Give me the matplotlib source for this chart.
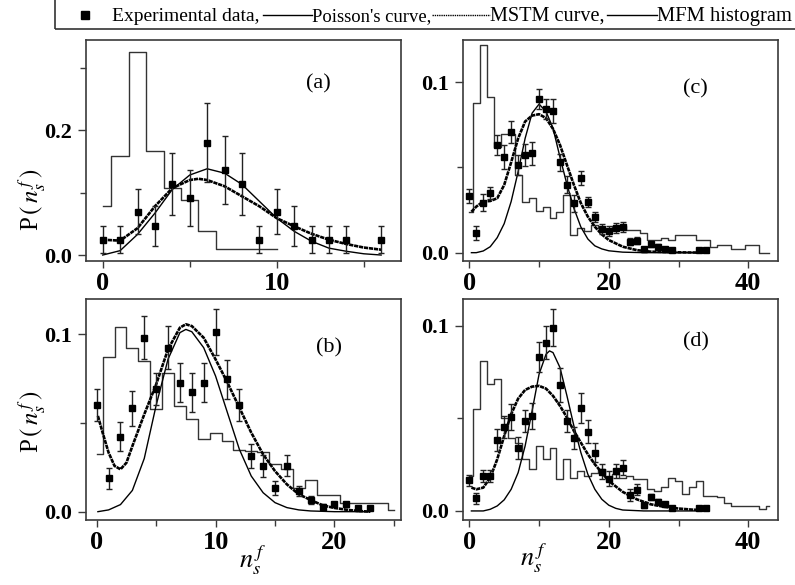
import numpy as np
import matplotlib
matplotlib.use("Agg")
import matplotlib.pyplot as plt
from matplotlib.lines import Line2D
from matplotlib.patches import Rectangle
from matplotlib.ticker import FormatStrFormatter, MultipleLocator

plt.rcParams['font.family'] = ['Liberation Serif', 'DejaVu Serif']
plt.rcParams['mathtext.fontset'] = 'stix'

# ---------------- panel (a)
a_n = [0, 1, 2, 3, 4, 5, 6, 7, 8, 9, 10, 11, 12, 13, 14, 16]
a_p = [0.0245, 0.0245, 0.069, 0.047, 0.114, 0.091, 0.180, 0.136, 0.114,
       0.0245, 0.069, 0.047, 0.0245, 0.0245, 0.0245, 0.0245]
a_err = [0.022, 0.022, 0.036, 0.032, 0.05, 0.045, 0.063, 0.054, 0.05,
         0.022, 0.036, 0.032, 0.022, 0.022, 0.022, 0.022]
a_pois_x = [0, 1, 2, 3, 4, 5, 6, 7, 8, 9, 10, 11, 12, 13, 14, 15, 16]
a_pois_y = [0.0, 0.007, 0.033, 0.067, 0.105, 0.128, 0.138, 0.131, 0.113,
            0.086, 0.059, 0.038, 0.022, 0.011, 0.006, 0.002, 0.0]
a_mstm_x = [0, 1, 2, 3, 4, 5, 5.5, 6, 7, 8, 9, 10, 11, 12, 13, 14, 15, 16]
a_mstm_y = [0.0245, 0.023, 0.043, 0.078, 0.107, 0.120, 0.122, 0.120, 0.110,
            0.094, 0.078, 0.059, 0.046, 0.034, 0.0245, 0.0176, 0.012, 0.0085]
a_hist = [0.078, 0.158, 0.325, 0.167, 0.108, 0.0875, 0.039, 0.0096, 0.0096,
          0.0096, 0.0096]

# ---------------- panel (b)
b_n = list(range(0, 24))
b_p = [0.0602, 0.0188, 0.0423, 0.0583, 0.0981, 0.069, 0.0925, 0.0728, 0.0675,
       0.0728, 0.1015, 0.0746, 0.0602, 0.0314, 0.0258, 0.0132, 0.026, 0.0117,
       0.0066, 0.0027, 0.0041, 0.0041, 0.0023, 0.0023]
b_err = [0.009, 0.006, 0.008, 0.010, 0.012, 0.009, 0.012, 0.011, 0.011, 0.011,
         0.013, 0.011, 0.009, 0.007, 0.006, 0.004, 0.006, 0.003, 0.002, 0.0015,
         0.0015, 0.0015, 0.001, 0.001]
b_pois_x = [0.1, 1, 2, 3, 4, 5, 6, 7, 7.5, 8, 9, 10, 11, 12, 13, 14, 15, 16,
            17, 18, 20, 23]
b_pois_y = [0.0, 0.001, 0.004, 0.012, 0.030, 0.060, 0.086, 0.101, 0.1028,
            0.1015, 0.0925, 0.0765, 0.0558, 0.0352, 0.0201, 0.0107, 0.0051,
            0.0023, 0.001, 0.0004, 0.0, 0.0]
b_mstm_x = [0.1, 0.5, 1, 1.5, 2, 2.5, 3, 4, 5, 6, 7, 7.5, 8, 9, 10, 11, 12,
            13, 14, 15, 16, 17, 18, 19, 20, 21, 22, 23]
b_mstm_y = [0.054, 0.0445, 0.0333, 0.0258, 0.0239, 0.0276, 0.037, 0.0549,
            0.0718, 0.0916, 0.1038, 0.1057, 0.1047, 0.0981, 0.0859, 0.0728,
            0.0587, 0.0446, 0.0323, 0.0229, 0.0154, 0.0098, 0.0066, 0.0036,
            0.0021, 0.0011, 0.0004, 0.0]
b_hist = [0.0324, 0.0872, 0.1044, 0.0921, 0.085, 0.058, 0.0784, 0.0596,
          0.0524, 0.0412, 0.0446, 0.040, 0.035, 0.034, 0.0335, 0.027, 0.024,
          0.0135, 0.018, 0.0094, 0.0094, 0.0047, 0.0047, 0.0047, 0.0047, 0.001]

# ---------------- panel (c)
c_n = list(range(0, 30)) + [33, 34]
c_p = [0.0334, 0.0117, 0.0293, 0.0348, 0.0632, 0.0559, 0.0708, 0.0514, 0.0572,
       0.0582, 0.0900, 0.0841, 0.0829, 0.053, 0.0397, 0.029, 0.0436, 0.0299,
       0.0211, 0.0137, 0.0127, 0.0143, 0.015, 0.0064, 0.007, 0.0021, 0.0049,
       0.0033, 0.0023, 0.0013, 0.0013, 0.0013]
c_err = [0.004, 0.004, 0.005, 0.0035, 0.006, 0.007, 0.0065, 0.006, 0.0065,
         0.0065, 0.006, 0.006, 0.007, 0.005, 0.005, 0.005, 0.004, 0.003, 0.003,
         0.003, 0.003, 0.003, 0.003, 0.002, 0.002, 0.0015, 0.0015, 0.0015,
         0.001, 0.001, 0.001, 0.001]
c_pois_x = [0.3, 1, 2, 3, 4, 5, 6, 7, 8, 9, 10, 11, 12, 13, 14, 15, 16, 17,
            18, 19, 20, 22, 25, 34]
c_pois_y = [0.0, 0.0, 0.001, 0.0035, 0.0088, 0.017, 0.030, 0.0475, 0.067,
            0.0818, 0.0871, 0.0828, 0.073, 0.056, 0.040, 0.026, 0.015, 0.008,
            0.004, 0.0022, 0.0011, 0.0003, 0.0, 0.0]
c_mstm_x = [0.3, 1, 2, 3, 4, 5, 6, 7, 8, 9, 10, 11, 12, 13, 14, 15, 16, 17,
            18, 19, 20, 22, 24, 26, 30, 34]
c_mstm_y = [0.024, 0.027, 0.030, 0.0303, 0.0319, 0.0397, 0.053, 0.067, 0.0769,
            0.0804, 0.0812, 0.0789, 0.0726, 0.0632, 0.0514, 0.0397, 0.029,
            0.0211, 0.0152, 0.0107, 0.0074, 0.0035, 0.0015, 0.0006, 0.0002,
            0.0]
c_hist = [0.024, 0.0877, 0.1215, 0.0915, 0.0622, 0.0694, 0.0694, 0.0456,
          0.030, 0.0319, 0.0244, 0.027, 0.0201, 0.024, 0.0338, 0.0104, 0.0147,
          0.0127, 0.0162, 0.0147, 0.0133, 0.0156, 0.0156, 0.0133, 0.0133,
          0.0113, 0.0074, 0.0074, 0.0088, 0.0074, 0.0104, 0.0104, 0.0104,
          0.0074, 0.0074, 0.0033, 0.0043, 0.0043, 0.0023, 0.0023, 0.0043,
          0.0043, 0.0, 0.0]

# ---------------- panel (d)
d_n = list(range(0, 30)) + [33, 34]
d_p = [0.0166, 0.0068, 0.0189, 0.0189, 0.0384, 0.0454, 0.0508, 0.0339, 0.0486,
       0.0514, 0.0832, 0.091, 0.0991, 0.0681, 0.0486, 0.0396, 0.0555, 0.0429,
       0.0315, 0.0213, 0.0175, 0.0216, 0.0234, 0.0086, 0.0114, 0.0031, 0.0076,
       0.005, 0.0036, 0.0018, 0.0018, 0.0018]
d_err = [0.003, 0.003, 0.003, 0.003, 0.006, 0.006, 0.007, 0.006, 0.006, 0.007,
         0.008, 0.009, 0.01, 0.009, 0.006, 0.006, 0.008, 0.006, 0.005, 0.004,
         0.004, 0.004, 0.004, 0.003, 0.003, 0.0015, 0.0015, 0.0015, 0.001,
         0.001, 0.001, 0.001]
d_pois_x = [0.3, 2, 3, 4, 5, 6, 7, 8, 9, 10, 11, 11.5, 12, 13, 14, 15, 16, 17,
            18, 19, 20, 21, 22, 25, 34]
d_pois_y = [0.0, 0.0, 0.0009, 0.0027, 0.006, 0.0117, 0.0207, 0.0351, 0.054,
            0.0739, 0.0847, 0.0865, 0.0856, 0.0775, 0.0622, 0.0459, 0.0315,
            0.0198, 0.0117, 0.0063, 0.0031, 0.0014, 0.0005, 0.0, 0.0]
d_mstm_x = [0.3, 1, 2, 3, 4, 5, 6, 7, 8, 9, 10, 11, 12, 13, 14, 15, 16, 17,
            18, 19, 20, 22, 24, 26, 28, 30, 32, 34]
d_mstm_y = [0.0126, 0.0117, 0.0126, 0.018, 0.0279, 0.0405, 0.0523, 0.0607,
            0.0654, 0.0672, 0.0676, 0.0661, 0.0622, 0.0568, 0.0505, 0.0432,
            0.0369, 0.0306, 0.0252, 0.0207, 0.0162, 0.0103, 0.0063, 0.0036,
            0.0022, 0.0013, 0.0007, 0.0004]
d_hist = [0.019, 0.055, 0.0811, 0.0685, 0.0712, 0.0505, 0.0396, 0.0369,
          0.0279, 0.0225, 0.0351, 0.0279, 0.0342, 0.0171, 0.0279, 0.018,
          0.0216, 0.0189, 0.0207, 0.0225, 0.018, 0.0198, 0.018, 0.0189,
          0.0171, 0.0175, 0.012, 0.011, 0.013, 0.018, 0.016, 0.009, 0.013,
          0.016, 0.008, 0.008, 0.0075, 0.0045, 0.0025, 0.0025, 0.0025, 0.0025,
          0.0012, 0.0025]

SPINE = '#3a3a3a'


def draw_panel(ax, n, p, err, pois_x, pois_y, mstm_x, mstm_y, hist, tag,
               tag_pos, xlim, xmaj, xmin, ylim, ymaj, ymin):
    ax.step(range(len(hist)), hist, where='mid', color='#333333', lw=1.0)
    ax.plot(pois_x, pois_y, color='black', lw=1.0)
    # MSTM curve: dense dotted, reads almost as a thick line
    ax.plot(mstm_x, mstm_y, color='black', lw=1.9, ls=(0, (1.6, 0.3)))
    ax.errorbar(n, p, yerr=err, fmt='s', color='black', ms=4.8,
                ecolor='#222222', elinewidth=1.0, capsize=2.5, capthick=1.0)
    ax.text(tag_pos[0], tag_pos[1], tag, transform=ax.transAxes,
            ha='center', va='center', fontsize=16)
    ax.set_xlim(*xlim)
    ax.set_ylim(*ylim)
    ax.xaxis.set_major_locator(MultipleLocator(xmaj))
    ax.xaxis.set_minor_locator(MultipleLocator(xmin))
    ax.yaxis.set_major_locator(MultipleLocator(ymaj))
    ax.yaxis.set_minor_locator(MultipleLocator(ymin))
    ax.yaxis.set_major_formatter(FormatStrFormatter('%.1f'))
    ax.tick_params(axis='y', which='major', direction='out', length=6,
                   width=1, labelsize=16, pad=4, color=SPINE)
    ax.tick_params(axis='y', which='minor', direction='out', length=4.5,
                   width=1, color=SPINE)
    ax.tick_params(axis='x', which='major', direction='out', length=5,
                   width=1, labelsize=19, pad=3, color=SPINE)
    ax.tick_params(axis='x', which='minor', direction='out', length=4,
                   width=1, color=SPINE)
    for lab in ax.get_xticklabels() + ax.get_yticklabels():
        lab.set_fontweight('bold')
    for s in ax.spines.values():
        s.set_color(SPINE)
        s.set_linewidth(1.2)


fig = plt.figure(figsize=(7.95, 5.85), dpi=100)
ax_a = fig.add_axes([0.1082, 0.5538, 0.3962, 0.3778])
ax_c = fig.add_axes([0.5820, 0.5538, 0.3966, 0.3778])
ax_b = fig.add_axes([0.1082, 0.1111, 0.3962, 0.3773])
ax_d = fig.add_axes([0.5820, 0.1111, 0.3966, 0.3773])

draw_panel(ax_a, a_n, a_p, a_err, a_pois_x, a_pois_y, a_mstm_x, a_mstm_y,
           a_hist, '(a)', (0.737, 0.80), (-0.96, 17.14), 10, 5,
           (-0.0096, 0.344), 0.2, 0.1)
draw_panel(ax_c, c_n, c_p, c_err, c_pois_x, c_pois_y, c_mstm_x, c_mstm_y,
           c_hist, '(c)', (0.737, 0.778), (-0.95, 44.26), 20, 10,
           (-0.0049, 0.1247), 0.1, 0.05)
draw_panel(ax_b, b_n, b_p, b_err, b_pois_x, b_pois_y, b_mstm_x, b_mstm_y,
           b_hist, '(b)', (0.771, 0.779), (-0.9, 25.6), 10, 5,
           (-0.0047, 0.1198), 0.1, 0.05)
draw_panel(ax_d, d_n, d_p, d_err, d_pois_x, d_pois_y, d_mstm_x, d_mstm_y,
           d_hist, '(d)', (0.740, 0.807), (-0.95, 44.26), 20, 10,
           (-0.0049, 0.1144), 0.1, 0.05)

# axis labels
ylab = r'P$\,(\,n_s^{\,f}\,)$'
fig.text(32 / 795, 1 - 200 / 585, ylab, rotation=90, ha='center',
         va='center', fontsize=18)
fig.text(32 / 795, 1 - 422 / 585, ylab, rotation=90, ha='center',
         va='center', fontsize=18)
fig.text(252 / 795, 1 - 560 / 585, r'$n_s^{\,f}$', ha='center', va='center',
         fontsize=19)
fig.text(533 / 795, 1 - 558 / 585, r'$n_s^{\,f}$', ha='center', va='center',
         fontsize=19)

# legend strip at the top
W, H = 795.0, 585.0
fig.add_artist(Rectangle((55 / W, 1 - 29.3 / H), 1.0, 0.1,
                         transform=fig.transFigure, fill=False,
                         edgecolor='#333333', lw=1.2, clip_on=False))
fig.add_artist(Line2D([85 / W], [1 - 14.5 / H], marker='s', ms=6,
                      color='black', ls='none', transform=fig.transFigure))
base = 1 - 20.7 / H
fig.text(112 / W, base, 'Experimental data,', fontsize=14.0, va='baseline')
fig.add_artist(Line2D([263 / W, 312 / W], [1 - 15 / H] * 2, color='black',
                      lw=1.0, transform=fig.transFigure))
fig.text(312 / W, base, "Poisson's curve,", fontsize=13.4, va='baseline')
fig.add_artist(Line2D([432 / W, 490 / W], [1 - 15 / H] * 2, color='black',
                      lw=1.0, ls=(0, (1, 0.6)), transform=fig.transFigure))
fig.text(490 / W, base, 'MSTM curve,', fontsize=14.6, va='baseline')
fig.add_artist(Line2D([607 / W, 657 / W], [1 - 15 / H] * 2, color='black',
                      lw=1.0, transform=fig.transFigure))
fig.text(657 / W, base, 'MFM histogram', fontsize=14.8, va='baseline')

fig.savefig('out.png', dpi=100)
